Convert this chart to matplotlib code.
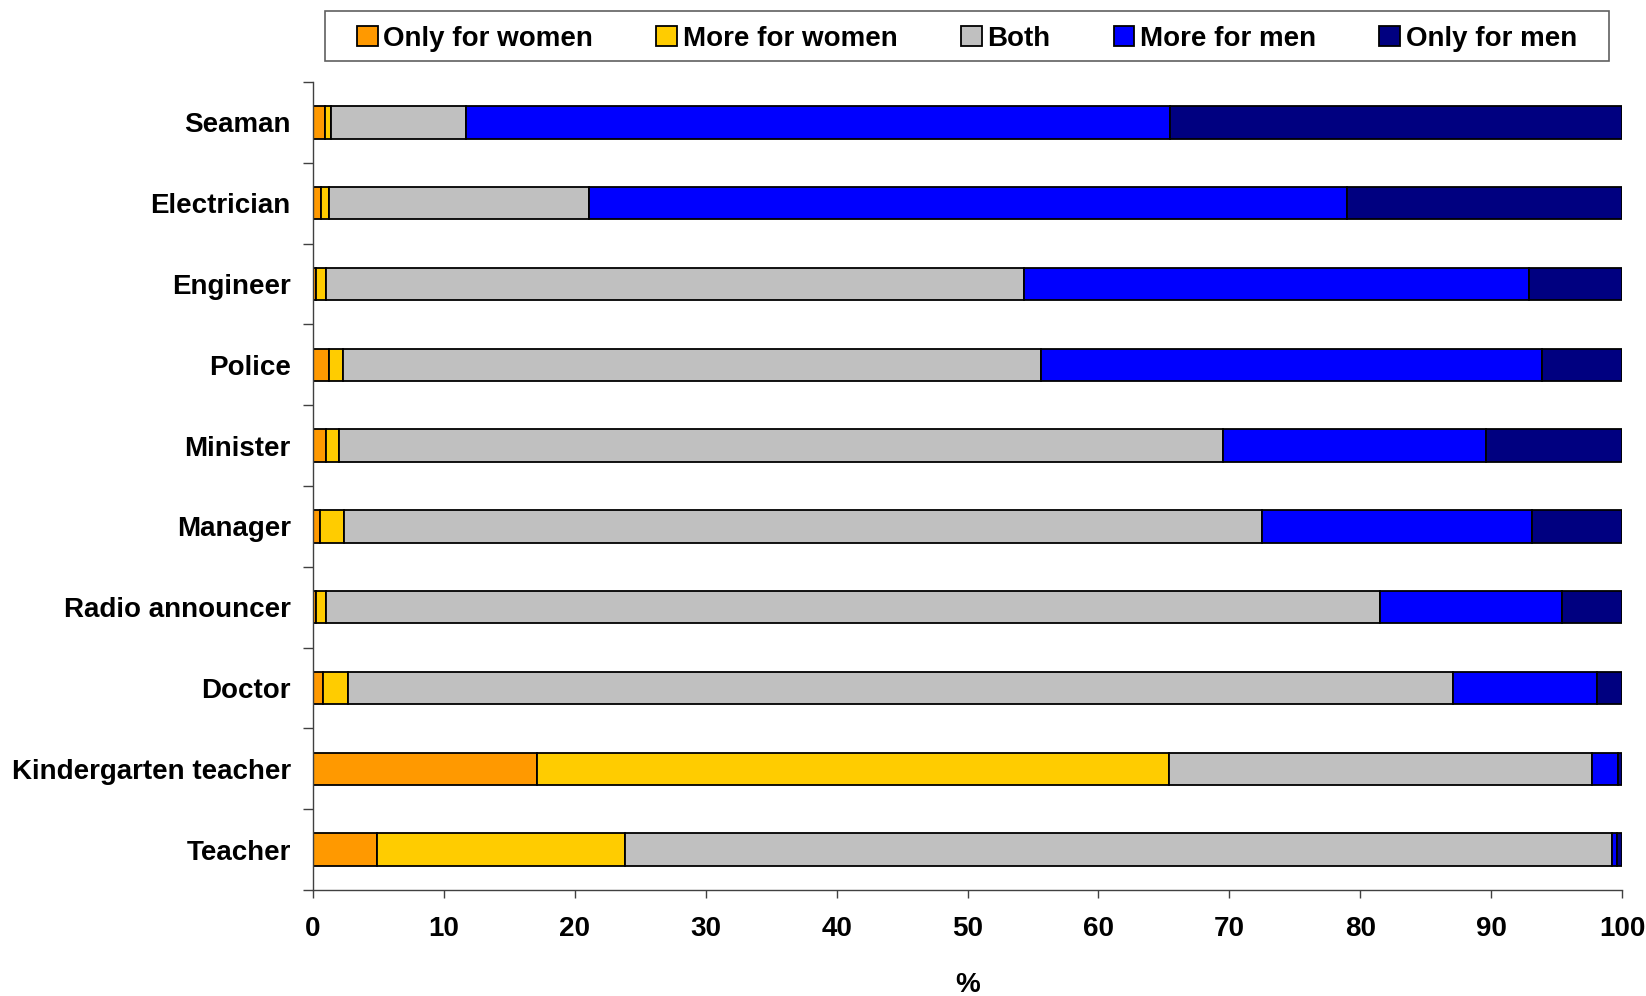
import matplotlib
matplotlib.use("Agg")
import matplotlib.pyplot as plt
from matplotlib.patches import Rectangle
import numpy as np

plt.rcParams["font.family"] = ["Liberation Sans", "DejaVu Sans"]
plt.rcParams["font.weight"] = "bold"

# occupations, bottom to top
jobs = ["Teacher", "Kindergarten teacher", "Doctor", "Radio announcer", "Manager",
        "Minister", "Police", "Engineer", "Electrician", "Seaman"]

series = ["Only for women", "More for women", "Both", "More for men", "Only for men"]

# percentages
only_women = [4.9, 17.1, 0.8, 0.2, 0.5, 1.0, 1.2, 0.2, 0.6, 0.9]
more_women = [18.9, 48.3, 1.9, 0.8, 1.9, 1.0, 1.1, 0.8, 0.6, 0.5]
both = [75.4, 32.3, 84.4, 80.5, 70.1, 67.5, 53.3, 53.3, 19.9, 10.3]
more_men = [0.4, 2.0, 11.0, 13.9, 20.6, 20.1, 38.3, 38.6, 57.9, 53.8]
only_men = [0.4, 0.3, 1.9, 4.6, 6.9, 10.4, 6.1, 7.1, 21.0, 34.5]

colors = ["#FF9900", "#FFCC00", "#C0C0C0", "#0000FF", "#000080"]

W, H = 1646, 996
fig = plt.figure(figsize=(W / 100, H / 100), dpi=100)
ax = fig.add_axes([313 / W, 1 - 890 / H, (1622 - 313) / W, (890 - 82) / H])

y = np.arange(len(jobs))
left = np.zeros(len(jobs))
for name, vals, c in zip(series, [only_women, more_women, both, more_men, only_men], colors):
    vals = np.array(vals)
    ax.barh(y, vals, left=left, height=0.4, color=c, edgecolor="black",
            linewidth=1.3, label=name)
    left += vals

ax.set_xlim(0, 100)
ax.set_ylim(-0.5, len(jobs) - 0.5)
ax.set_xticks(np.arange(0, 101, 10))
ax.set_yticks(y)
ax.set_yticklabels(jobs)
ax.set_yticks(np.arange(-0.5, len(jobs), 1), minor=True)
ax.tick_params(axis="y", which="major", length=0, pad=16, labelsize=20)
ax.tick_params(axis="y", which="minor", length=7, width=1, color="#404040", direction="out")
ax.tick_params(axis="x", length=6, width=1, color="#404040", pad=13, labelsize=20)

for s in ["top", "right"]:
    ax.spines[s].set_visible(False)
for s in ["left", "bottom"]:
    ax.spines[s].set_color("#404040")
    ax.spines[s].set_linewidth(1)

ax.set_xlabel("%", fontsize=20, fontweight="bold", labelpad=21)

# legend box drawn by hand so the inner side padding can be wider
box = (325 / W, 1 - 61 / H, (1609 - 325) / W, 50 / H)
fig.patches.append(Rectangle(box[:2], box[2], box[3], transform=fig.transFigure,
                             fill=False, edgecolor="#606060", linewidth=1.2))
leg = fig.legend(loc="center left", ncol=5, mode="expand",
                 bbox_to_anchor=(box[0], box[1] - 3 / H, box[2], box[3]),
                 borderaxespad=0, fontsize=20, frameon=False,
                 handlelength=0.75, handleheight=0.75, handletextpad=0.2, borderpad=1.15)

fig.savefig("out.png", dpi=100)
